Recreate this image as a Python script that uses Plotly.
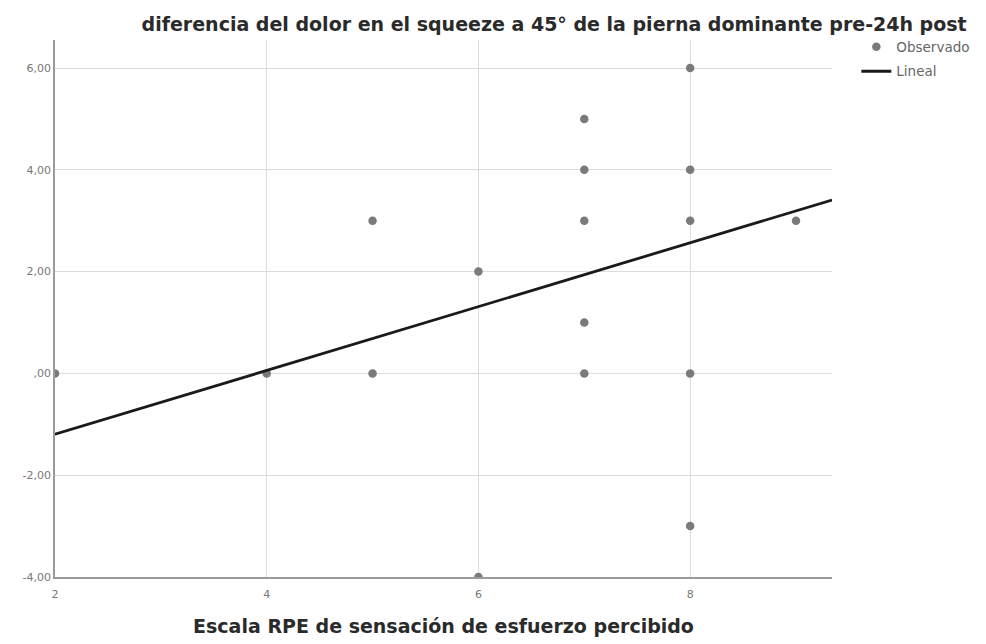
import plotly.graph_objects as go

# Observed pairs: RPE score vs. pain difference (pre - 24h post)
rpe = [2, 4, 5, 5, 6, 6, 7, 7, 7, 7, 7, 8, 8, 8, 8, 8, 9]
pain_diff = [0, 0, 3, 0, 2, -4, 5, 4, 3, 1, 0, 6, 4, 3, 0, -3, 3]

# Linear fit coefficients
fit_intercept = -2.45
fit_slope = 0.627

x_range = [2, 9.34]
y_range = [-4, 6.55]

y_tickvals = [-4, -2, 0, 2, 4, 6]
y_ticktext = ["-4,00", "-2,00", ",00", "2,00", "4,00", "6,00"]
x_tickvals = [2, 4, 6, 8]
x_ticktext = ["2", "4", "6", "8"]

title_text = "diferencia del dolor en el squeeze a 45° de la pierna dominante pre-24h post"
x_title = "Escala RPE de sensación de esfuerzo percibido"

fit_x = x_range
fit_y = [fit_intercept + fit_slope * v for v in fit_x]

fig = go.Figure()
fig.add_trace(go.Scatter(
    x=rpe, y=pain_diff, mode="markers", name="Observado", legendgroup="obs",
    marker=dict(color="#7a7a7a", size=8.5, line=dict(width=0)),
))
fig.add_trace(go.Scatter(
    x=fit_x, y=fit_y, mode="lines", name="Lineal", legendgroup="fit",
    line=dict(color="#1a1a1a", width=2.8),
))

fig.update_layout(
    width=986, height=644,
    margin=dict(l=55, r=153, t=40, b=67),
    paper_bgcolor="white", plot_bgcolor="white",
    font=dict(family="DejaVu Sans", color="#555555"),
    title=dict(
        text=title_text, x=0.562, xanchor="center", y=0.962, yanchor="middle",
        font=dict(family="DejaVu Sans", size=19, color="#2a2a2a", weight="bold"),
    ),
    legend=dict(
        x=1.03, xanchor="left", y=1.016, yanchor="top",
        font=dict(size=13.5, color="#666666"),
        bgcolor="rgba(0,0,0,0)", itemwidth=30, tracegroupgap=4,
    ),
    xaxis=dict(
        range=x_range, tickmode="array", tickvals=x_tickvals, ticktext=x_ticktext,
        showgrid=True, gridcolor="#dcdcdc", gridwidth=1,
        showline=True, linecolor="#9a9a9a", linewidth=1.5,
        zeroline=False, ticks="", tickfont=dict(size=11, color="#777777"),
        ticklabelstandoff=6, automargin=False,
        title=dict(text=x_title, standoff=20,
                   font=dict(family="DejaVu Sans", size=19, color="#2a2a2a", weight="bold")),
    ),
    yaxis=dict(
        range=y_range, tickmode="array", tickvals=y_tickvals, ticktext=y_ticktext,
        showgrid=True, gridcolor="#dcdcdc", gridwidth=1,
        showline=True, linecolor="#9a9a9a", linewidth=1.5,
        zeroline=False, ticks="", tickfont=dict(size=11, color="#777777"),
        automargin=False,
    ),
)

fig.write_html("out.html")
